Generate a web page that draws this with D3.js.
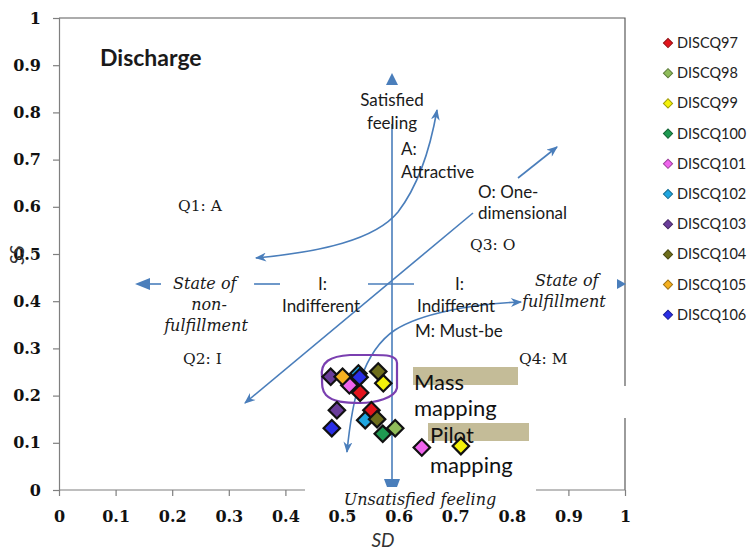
<!DOCTYPE html>
<html>
<head>
<meta charset="utf-8">
<script src="https://d3js.org/d3.v7.min.js"></script>
<style>
  body { margin: 0; background: #fff; }
  svg { display: block; }
</style>
</head>
<body>
<div id="chart"></div>
<script>
// series, in drawing order
const seriesNames = ["DISCQ97", "DISCQ98", "DISCQ99", "DISCQ100", "DISCQ101",
                     "DISCQ102", "DISCQ103", "DISCQ104", "DISCQ105", "DISCQ106"];
const seriesColors = ["#e3141c", "#8fbc5a", "#f5f20a", "#1f9a52", "#f064ee",
                      "#1fa6e0", "#6a3d9a", "#6e6e1c", "#f5b020", "#2a2ee6"];
// SD (x) and SS (y) values
const sdValues = [[0.532, 0.552], [0.594], [0.573, 0.710], [0.572], [0.513, 0.641],
                  [0.529, 0.541], [0.480, 0.491], [0.564, 0.562], [0.501], [0.531, 0.482]];
const ssValues = [[0.206, 0.169], [0.131], [0.226, 0.093], [0.119], [0.222, 0.090],
                  [0.247, 0.148], [0.240, 0.169], [0.251, 0.150], [0.240], [0.239, 0.131]];

const tickValues = [0, 0.1, 0.2, 0.3, 0.4, 0.5, 0.6, 0.7, 0.8, 0.9, 1];
const tickLabels = ["0", "0.1", "0.2", "0.3", "0.4", "0.5", "0.6", "0.7", "0.8", "0.9", "1"];

const width = 751, height = 550;
const blue = "#4a7ebb";
const calibri = "Lato, 'Open Sans', sans-serif";
const cambria = "'DejaVu Serif', serif";

const x = d3.scaleLinear().domain([0, 1]).range([59, 625]);
const y = d3.scaleLinear().domain([0, 1]).range([490, 18]);

const svg = d3.select("#chart").append("svg")
  .attr("width", width)
  .attr("height", height);

const defs = svg.append("defs");
defs.append("marker")
  .attr("id", "arr")
  .attr("viewBox", "0 0 10 8")
  .attr("refX", 9).attr("refY", 4)
  .attr("markerUnits", "userSpaceOnUse")
  .attr("markerWidth", 12).attr("markerHeight", 9)
  .attr("orient", "auto-start-reverse")
  .append("path")
  .attr("d", "M0,0 L10,4 L0,8 L3,4 Z")
  .attr("fill", blue);

// plot frame (top and right)
svg.append("path")
  .attr("d", `M${x(0)},${y(1)} H${x(1)} V${y(0)}`)
  .attr("fill", "none")
  .attr("stroke", "#5a5a5a")
  .attr("stroke-width", 1.2);

// axes
const xAxis = svg.append("g")
  .attr("transform", `translate(0,${y(0)})`)
  .call(d3.axisBottom(x).tickValues(tickValues).tickFormat((d, i) => tickLabels[i])
    .tickSize(6).tickPadding(15));
const yAxis = svg.append("g")
  .attr("transform", `translate(${x(0)},0)`)
  .call(d3.axisLeft(y).tickValues(tickValues).tickFormat((d, i) => tickLabels[i])
    .tickSize(6).tickPadding(12));

[xAxis, yAxis].forEach(g => {
  g.selectAll(".domain, line").attr("stroke", "#7f7f7f").attr("stroke-width", 1.2);
  g.selectAll("text")
    .style("font-family", cambria)
    .style("font-weight", "bold")
    .style("font-size", "16px")
    .attr("fill", "#111");
});

// white text boxes covering parts of the frame
svg.append("rect").attr("x", 305).attr("y", 486).attr("width", 231).attr("height", 20).attr("fill", "#fff");
svg.append("rect").attr("x", 410).attr("y", 386).attr("width", 230).attr("height", 32).attr("fill", "#fff");
svg.node().appendChild(xAxis.node());
xAxis.select(".domain").remove();
svg.append("line")
  .attr("x1", x(0)).attr("x2", 305).attr("y1", y(0)).attr("y2", y(0))
  .attr("stroke", "#7f7f7f").attr("stroke-width", 1.2);
svg.append("line")
  .attr("x1", 536).attr("x2", x(1)).attr("y1", y(0)).attr("y2", y(0))
  .attr("stroke", "#7f7f7f").attr("stroke-width", 1.2);
xAxis.selectAll(".tick").filter(d => d > 0.42 && d < 0.85).select("line").remove();

// axis titles
svg.append("text")
  .attr("x", 383).attr("y", 547)
  .attr("text-anchor", "middle")
  .style("font-family", calibri).style("font-style", "italic").style("font-size", "19px")
  .attr("fill", "#333")
  .text("SD");
svg.append("text")
  .attr("transform", "translate(24,255) rotate(-90)")
  .attr("text-anchor", "middle")
  .style("font-family", calibri).style("font-style", "italic").style("font-size", "19px")
  .attr("fill", "#333")
  .text("SS");

// Kano model annotation: axes of satisfaction / fulfillment
const ann = svg.append("g").attr("fill", "none").attr("stroke", blue).attr("stroke-width", 1.6);
ann.append("line").attr("x1", 392).attr("x2", 392).attr("y1", 124).attr("y2", 482);
ann.append("line").attr("x1", 146).attr("x2", 161).attr("y1", 284).attr("y2", 284);
ann.append("line").attr("x1", 254).attr("x2", 280).attr("y1", 284).attr("y2", 284);
ann.append("line").attr("x1", 368).attr("x2", 414).attr("y1", 284).attr("y2", 284);

const tri = svg.append("g").attr("fill", blue);
tri.append("path").attr("d", "M392,73 L398,85 L386,85 Z");
tri.append("path").attr("d", "M384,479 L400,479 L397,487 L387,487 Z");
tri.append("path").attr("d", "M135,284 L150,278 L150,290 Z");
tri.append("path").attr("d", "M626,284 L617,279 L617,289 Z");

// A: attractive curve
ann.append("path")
  .attr("d", "M256,258 C320,252 375,240 398,212 C418,186 430,150 437,110")
  .attr("marker-start", "url(#arr)")
  .attr("marker-end", "url(#arr)");
// O: one-dimensional line
ann.append("path")
  .attr("d", "M473,213 L245,403")
  .attr("marker-end", "url(#arr)");
ann.append("path")
  .attr("d", "M518,178 L557,147")
  .attr("marker-end", "url(#arr)");
// M: must-be curve
ann.append("path")
  .attr("d", "M347,452 C352,400 362,352 395,330 C420,314 470,304 521,302")
  .attr("marker-start", "url(#arr)")
  .attr("marker-end", "url(#arr)");

// text labels
function label(txt, px, py, opts = {}) {
  svg.append("text")
    .attr("x", px).attr("y", py)
    .attr("text-anchor", opts.anchor || "start")
    .style("font-family", opts.font || calibri)
    .style("font-size", (opts.size || 17) + "px")
    .style("font-style", opts.italic ? "italic" : "normal")
    .style("font-weight", opts.bold ? "bold" : "normal")
    .attr("fill", opts.color || "#1a1a1a")
    .text(txt);
}

label("Discharge", 100, 66, { size: 23, bold: true });
label("Q1: A", 178, 211, { font: cambria, size: 15.5 });
label("Q2: I", 183, 364, { font: cambria, size: 15.5 });
label("Q3: O", 470, 250, { font: cambria, size: 15.5 });
label("Q4: M", 519, 364, { font: cambria, size: 15.5 });

label("Satisfied", 392, 106, { anchor: "middle" });
label("feeling", 392, 129, { anchor: "middle" });
label("A:", 401, 155);
label("Attractive", 401, 178);
label("O: One-", 478, 198);
label("dimensional", 478, 219);
label("I:", 318, 290);
label("Indifferent", 282, 312);
label("I:", 455, 290);
label("Indifferent", 417, 312);
label("M: Must-be", 415, 337);

label("State of", 535, 286, { font: cambria, italic: true, size: 16 });
label("fulfillment", 522, 307, { font: cambria, italic: true, size: 16 });
label("State of", 173, 289, { font: cambria, italic: true, size: 16 });
label("non-", 209, 310, { font: cambria, italic: true, size: 16, anchor: "middle" });
label("fulfillment", 206, 331, { font: cambria, italic: true, size: 16, anchor: "middle" });
label("Unsatisfied feeling", 420, 505, { font: cambria, italic: true, size: 16, anchor: "middle" });

// mapping boxes
svg.append("rect").attr("x", 413).attr("y", 367).attr("width", 105).attr("height", 18).attr("fill", "#c4bc98");
svg.append("rect").attr("x", 428).attr("y", 423).attr("width", 101).attr("height", 18).attr("fill", "#c4bc98");
label("Mass", 414, 390, { size: 22, color: "#111" });
label("mapping", 414, 416, { size: 22, color: "#111" });
label("Pilot", 430, 443, { size: 22, color: "#111" });
label("mapping", 430, 473, { size: 22, color: "#111" });

// purple highlight around the upper cluster
svg.append("path")
  .attr("d", "M322,377 C320,362 330,356 350,355 L373,355 C385,355 397,355 397,363 L397,388 C395,398 375,403 360,403 C345,403 333,402 326,395 C322,391 322,385 322,377 Z")
  .attr("fill", "none")
  .attr("stroke", "#7a3fb0")
  .attr("stroke-width", 2.2);

// data points
const diamond = d3.symbol().type(d3.symbolSquare).size(135);
seriesNames.forEach((name, i) => {
  const pts = sdValues[i].map((v, j) => [v, ssValues[i][j]]);
  svg.append("g").selectAll("path")
    .data(pts)
    .enter().append("path")
    .attr("d", diamond)
    .attr("transform", d => `translate(${x(d[0])},${y(d[1])}) rotate(45)`)
    .attr("fill", seriesColors[i])
    .attr("stroke", "#111")
    .attr("stroke-width", 2.2);
});

// legend
const legend = svg.append("g");
const legendSym = d3.symbol().type(d3.symbolSquare).size(42);
seriesNames.forEach((name, i) => {
  const ly = 43 + i * 30.2;
  legend.append("path")
    .attr("d", legendSym)
    .attr("transform", `translate(668,${ly}) rotate(45)`)
    .attr("fill", seriesColors[i])
    .attr("stroke", d3.color(seriesColors[i]).darker(1.2))
    .attr("stroke-width", 1);
  legend.append("text")
    .attr("x", 677).attr("y", ly + 5)
    .style("font-family", calibri)
    .style("font-size", "14.5px")
    .attr("fill", "#222")
    .text(name);
});
</script>
</body>
</html>
